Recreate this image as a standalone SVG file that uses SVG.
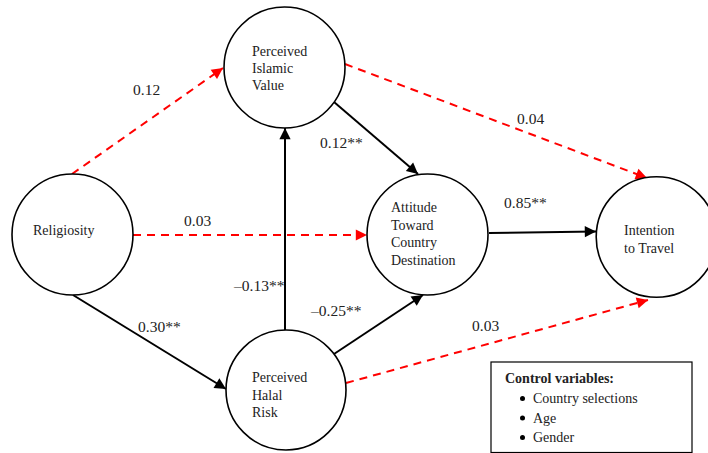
<svg xmlns="http://www.w3.org/2000/svg" width="708" height="453" viewBox="0 0 708 453" font-family="Liberation Serif, Times New Roman, serif">
<style>
.node{fill:#fff;stroke:#000;stroke-width:1.6}
.t{font-size:14px;fill:#222}
.lbl{font-size:15.5px;fill:#222}
.sig{stroke:#000;stroke-width:2;fill:none}
.ns{stroke:#f00;stroke-width:2;fill:none;stroke-dasharray:8,6}
.b{font-weight:bold}
</style>
<defs>
<marker id="ab" viewBox="0 0 10 10" refX="10" refY="5" markerWidth="7" markerHeight="7" markerUnits="userSpaceOnUse" orient="auto" style="overflow:visible">
<path d="M0,0 L10,5 L0,10 z" fill="#000" transform="scale(1.6)" transform-origin="10 5"/>
</marker>
<marker id="ar" viewBox="0 0 10 10" refX="10" refY="5" markerWidth="7" markerHeight="7" markerUnits="userSpaceOnUse" orient="auto" style="overflow:visible">
<path d="M0,0 L10,5 L0,10 z" fill="#f00" transform="scale(1.6)" transform-origin="10 5"/>
</marker>
</defs>
<rect width="708" height="453" fill="#fff"/>
<g id="connectors">
<line class="ns" x1="72" y1="174" x2="223" y2="68" marker-end="url(#ar)"/>
<line class="ns" x1="345" y1="64" x2="647" y2="178" marker-end="url(#ar)"/>
<line class="ns" x1="133" y1="235" x2="367" y2="235" marker-end="url(#ar)"/>
<line class="sig" x1="334" y1="102" x2="418" y2="174" marker-end="url(#ab)"/>
<line class="sig" x1="285" y1="330" x2="285" y2="128" marker-end="url(#ab)"/>
<line class="sig" x1="73" y1="295" x2="226" y2="389" marker-end="url(#ab)"/>
<line class="sig" x1="334" y1="354" x2="423" y2="295" marker-end="url(#ab)"/>
<line class="ns" x1="346" y1="383" x2="648" y2="300" marker-end="url(#ar)"/>
<line class="sig" x1="489" y1="233" x2="596" y2="231.5" marker-end="url(#ab)"/>
</g>
<g id="labels">
<text class="lbl" x="133" y="95">0.12</text>
<text class="lbl" x="320" y="148">0.12**</text>
<text class="lbl" x="517" y="124">0.04</text>
<text class="lbl" x="184" y="226">0.03</text>
<text class="lbl" x="504" y="208">0.85**</text>
<text class="lbl" x="234" y="291">&#8211;0.13**</text>
<text class="lbl" x="138" y="332">0.30**</text>
<text class="lbl" x="311" y="316">&#8211;0.25**</text>
<text class="lbl" x="472" y="331">0.03</text>
</g>
<g id="religiosity">
<circle class="node" cx="72.5" cy="234.5" r="60.5"/>
<text class="t" x="33" y="235">Religiosity</text>
</g>
<g id="piv">
<circle class="node" cx="284.5" cy="67.5" r="60.5"/>
<text class="t" x="252" y="56">Perceived</text>
<text class="t" x="252" y="73">Islamic</text>
<text class="t" x="252" y="90">Value</text>
</g>
<g id="phr">
<circle class="node" cx="286" cy="390" r="60"/>
<text class="t" x="252" y="382">Perceived</text>
<text class="t" x="252" y="399.5">Halal</text>
<text class="t" x="252" y="417">Risk</text>
</g>
<g id="attitude">
<circle class="node" cx="427.5" cy="234.5" r="60.5"/>
<text class="t" x="391" y="212">Attitude</text>
<text class="t" x="391" y="229.5">Toward</text>
<text class="t" x="391" y="247">Country</text>
<text class="t" x="391" y="264.5">Destination</text>
</g>
<g id="intention">
<circle class="node" cx="656.5" cy="237" r="60.3"/>
<text class="t" x="624" y="235">Intention</text>
<text class="t" x="624" y="252.5">to Travel</text>
</g>
<g id="controls">
<rect x="491" y="362" width="201" height="90.5" fill="#fff" stroke="#000" stroke-width="1.2"/>
<text class="t b" x="505" y="383" fill="#000">Control variables:</text>
<circle cx="522.5" cy="398.5" r="2.5" fill="#000"/>
<circle cx="522.5" cy="418" r="2.5" fill="#000"/>
<circle cx="522.5" cy="437.5" r="2.5" fill="#000"/>
<text class="t" x="533" y="403">Country selections</text>
<text class="t" x="533" y="422.5">Age</text>
<text class="t" x="533" y="442">Gender</text>
</g>
</svg>
